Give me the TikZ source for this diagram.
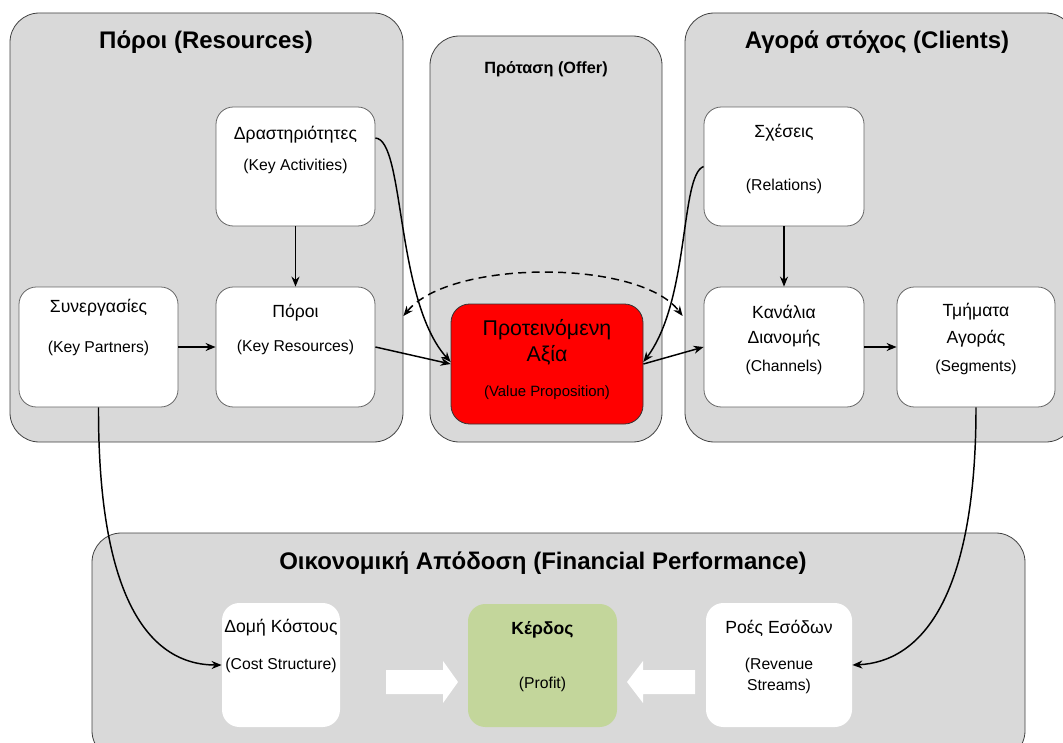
\documentclass[tikz,border=0pt]{standalone}
\usepackage{fontspec}
\setmainfont{Liberation Sans}
\usetikzlibrary{arrows.meta,calc}

\definecolor{panelgray}{HTML}{D9D9D9}
\definecolor{profitgreen}{HTML}{C3D69B}
\definecolor{vpred}{HTML}{FF0000}

\begin{document}
\begin{tikzpicture}[x=0.75pt,y=-0.75pt,
  sz/.style 2 args={minimum width=#1*0.75pt, minimum height=#2*0.75pt, inner sep=0pt},
  panel/.style={draw=black!75, fill=panelgray, rounded corners=22pt, line width=0.6pt},
  card/.style={draw=black!60, fill=white, rounded corners=13pt, line width=0.6pt},
  ptitle/.style={font=\fontsize{18}{21}\selectfont\bfseries, inner sep=0pt},
  maintxt/.style={font=\fontsize{13.2}{15}\selectfont, inner sep=0pt},
  subtxt/.style={font=\fontsize{11.8}{13}\selectfont, inner sep=0pt},
  conn/.style={line width=1.1pt, -{Stealth[length=7.5pt,width=6pt]}},
  fat/.style={fill=white, draw=none}]

\useasboundingbox (0,0) rectangle (1063,742);
\clip (0,0) rectangle (1063,742);

% group panels
\node[panel, sz={393}{429}] (res) at (206.5,227.5) {};
\node[panel, sz={232}{406}] (off) at (546,239) {};
\node[panel, sz={390}{429}] (cli) at (880,227.5) {};
\node[panel, sz={933}{227}] (fin) at (558.5,646.5) {};

\node[ptitle] (resT) at (206,42) {Πόροι (Resources)};
\node[font=\fontsize{12.2}{14}\selectfont\bfseries, inner sep=0pt] (offT) at (546,69) {Πρόταση (Offer)};
\node[ptitle] (cliT) at (877,42) {Αγορά στόχος (Clients)};
\node[ptitle] (finT) at (543,563) {Οικονομική Απόδοση (Financial Performance)};

% building blocks
\node[card, sz={159}{119}] (act) at (295.5,166.5) {};
\node[card, sz={159}{120}] (kr)  at (295.5,347) {};
\node[card, sz={159}{120}] (kp)  at (98.5,347) {};
\node[draw=black!80, fill=vpred, rounded corners=14pt, line width=0.6pt, sz={192}{120}] (vp) at (547,364) {};
\node[card, sz={160}{119}] (rel) at (784,166.5) {};
\node[card, sz={160}{120}] (ch)  at (784,347) {};
\node[card, sz={158}{120}] (seg) at (976,347) {};
\node[card, draw=none, sz={118}{124}] (cost) at (281,665) {};
\node[card, draw=none, fill=profitgreen, sz={149}{123}] (prof) at (542.5,665.5) {};
\node[card, draw=none, sz={146}{124}] (rev) at (779,665) {};

% texts
\node[maintxt] (actA) at (295.5,135) {Δραστηριότητες};
\node[subtxt]  (actB) at (295.5,166) {(Key Activities)};
\node[maintxt] (krA)  at (295.5,313) {Πόροι};
\node[subtxt]  (krB)  at (295.5,347) {(Key Resources)};
\node[maintxt] (kpA)  at (98.5,308) {Συνεργασίες};
\node[subtxt]  (kpB)  at (98.5,348) {(Key Partners)};
\node[font=\fontsize{16}{18}\selectfont, inner sep=0pt] (vpA) at (547,330) {Προτεινόμενη};
\node[font=\fontsize{16}{18}\selectfont, inner sep=0pt] (vpB) at (547,355) {Αξία};
\node[font=\fontsize{11.2}{13}\selectfont, inner sep=0pt] (vpC) at (547,393) {(Value Proposition)};
\node[maintxt] (relA) at (784,133) {Σχέσεις};
\node[subtxt]  (relB) at (784,186) {(Relations)};
\node[maintxt] (chA)  at (784,312) {Κανάλια};
\node[maintxt] (chB)  at (784,339) {Διανομής};
\node[subtxt]  (chC)  at (784,367) {(Channels)};
\node[maintxt] (segA) at (976,312) {Τμήματα};
\node[maintxt] (segB) at (976,339) {Αγοράς};
\node[subtxt]  (segC) at (976,367) {(Segments)};
\node[maintxt] (costA) at (281,628) {Δομή Κόστους};
\node[subtxt]  (costB) at (281,665) {(Cost Structure)};
\node[font=\fontsize{13.2}{15}\selectfont\bfseries, inner sep=0pt] (profA) at (542.5,630) {Κέρδος};
\node[subtxt]  (profB) at (542.5,684) {(Profit)};
\node[maintxt] (revA) at (779,628) {Ροές Εσόδων};
\node[subtxt]  (revB) at (779,665) {(Revenue};
\node[subtxt]  (revC) at (779,686) {Streams)};

% connectors
\draw[conn] (act.south) -- (kr.north);
\draw[conn] (kp.east) -- (kr.west);
\draw[conn] (kr.east) -- (vp.west);
\draw[conn] ($(act.east)+(0,-28.5)$) .. controls (405,140) and (395,300) .. ($(vp.west)+(0,-2)$);
\draw[conn] (rel.west) .. controls (680,175) and (690,300) .. ($(vp.east)+(0,-2)$);
\draw[conn] (vp.east) -- (ch.west);
\draw[conn] (rel.south) -- (ch.north);
\draw[conn] (ch.east) -- (seg.west);
\draw[line width=1.1pt, dashed, dash pattern=on 6pt off 4pt,
      {Stealth[length=7.5pt,width=6pt]}-{Stealth[length=7.5pt,width=6pt]}]
  ($(res.east)+(0,88.5)$) .. controls (450,259) and (640,259) .. ($(cli.west)+(-2,88.5)$);
\draw[conn] (kp.south) .. controls (98,600) and (150,665) .. (cost.west);
\draw[conn] (seg.south) .. controls (976,600) and (920,662) .. (rev.east);

% block arrows into the profit box
\fill[fat] (386,670) -- (443,670) -- (443,661) -- (458,682) -- (443,703) -- (443,694) -- (386,694) -- cycle;
\fill[fat] (695,670) -- (643,670) -- (643,661) -- (627,682) -- (643,703) -- (643,694) -- (695,694) -- cycle;
\end{tikzpicture}
\end{document}
